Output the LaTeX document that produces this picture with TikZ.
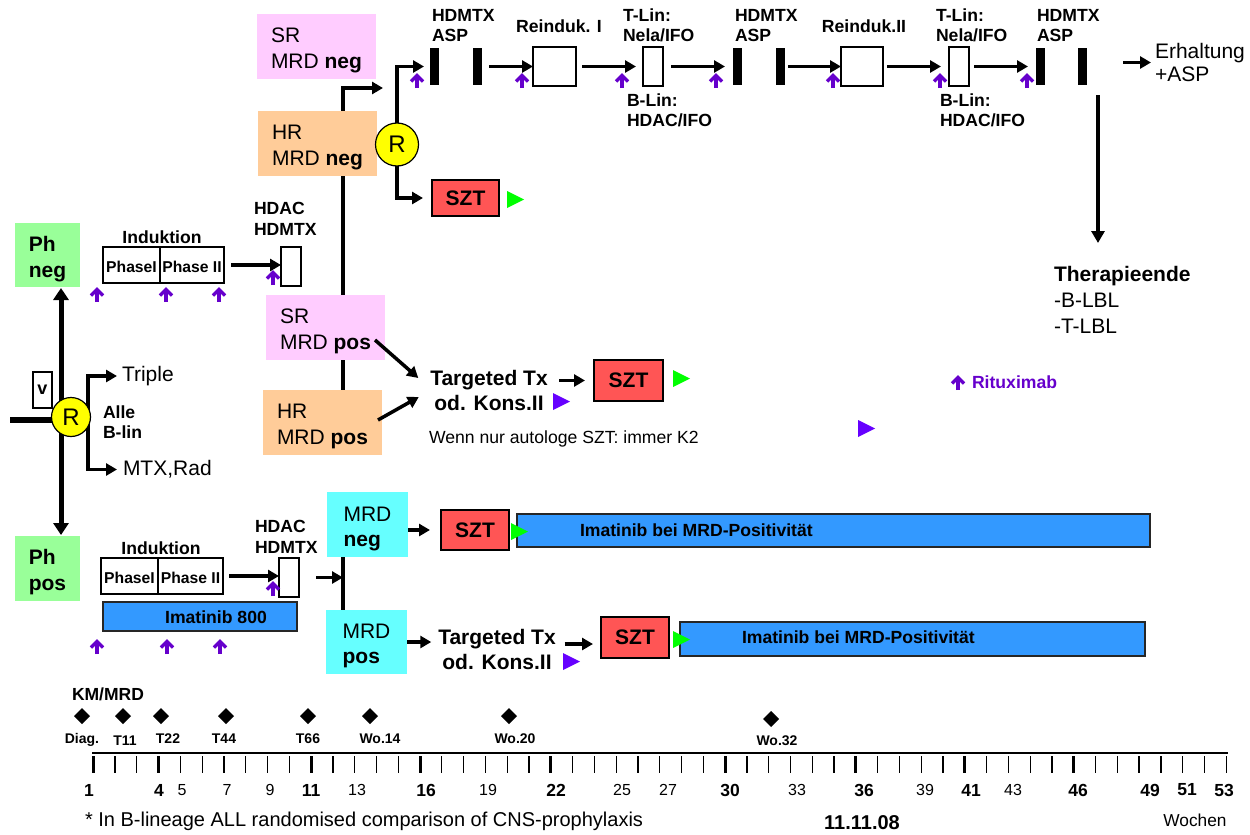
\documentclass[tikz,border=0pt]{standalone}
\usepackage{fontspec}
\setmainfont{Liberation Sans}
\usetikzlibrary{arrows.meta,calc}
\definecolor{pinkc}{HTML}{FFCCFF}
\definecolor{orangec}{HTML}{FFCC99}
\definecolor{greenc}{HTML}{99FF99}
\definecolor{cyanc}{HTML}{66FFFF}
\definecolor{redc}{HTML}{FF5555}
\definecolor{bluec}{HTML}{3399FF}
\definecolor{yellowc}{HTML}{FFFF00}
\definecolor{purpc}{HTML}{6600CC}
\definecolor{violc}{HTML}{6600FF}
\definecolor{limec}{HTML}{00FF00}
\newcommand\mystrut{\rule{0pt}{23pt}}
\newcommand\purpup[2]{%
  \draw[purpc, line width=3.5pt] (#1,#2+14) -- (#1,#2+3);
  \draw[purpc, line width=3.5pt, line join=miter] (#1-6,#2+7.5) -- (#1,#2+1.5) -- (#1+6,#2+7.5);}
\newcommand\gtri[3]{\fill[#1] (#2,#3-8.5) -- (#2+17,#3) -- (#2,#3+8.5) -- cycle;}
\newcommand\dmd[2]{\fill (#1-8,#2) -- (#1,#2-8) -- (#1+8,#2) -- (#1,#2+8) -- cycle;}
\pgfdeclarelayer{bg}
\pgfsetlayers{bg,main}
\tikzset{
  every node/.style={inner sep=0pt, outer sep=0pt},
  big/.style={font=\fontsize{21}{26}\selectfont},
  bigb/.style={font=\bfseries\fontsize{21}{25}\selectfont},
  medb/.style={font=\bfseries\fontsize{17.6}{20}\selectfont},
  med/.style={font=\fontsize{17.6}{21}\selectfont},
  cbox/.style={anchor=north west, align=left, font=\fontsize{21}{26}\selectfont},
  wbox/.style={anchor=north west, draw, line width=1.3pt, fill=white},
  blackbar/.style={anchor=north west, fill=black, minimum width=9pt, minimum height=37pt},
  sztbox/.style={anchor=north west, draw, line width=1.3pt, fill=redc, font=\bfseries\fontsize{21}{25}\selectfont},
  bluebar/.style={anchor=north west, draw=black!85, line width=1.3pt, fill=bluec},
  rcirc/.style={circle, draw, line width=1.2pt, fill=yellowc, font=\fontsize{24}{28}\selectfont},
  arr/.style={line width=3.5pt, -{Triangle[length=11pt,width=12pt]}},
  phase/.style={wbox, minimum height=36pt, text height=15pt, text depth=0pt, font=\bfseries\fontsize{15.7}{18}\selectfont},
  dlab/.style={font=\bfseries\fontsize{14}{16}\selectfont},
  tlb/.style={font=\bfseries\fontsize{17.5}{20}\selectfont},
  tln/.style={font=\fontsize{16}{19}\selectfont},
}
\begin{document}
\begin{tikzpicture}[x=1pt,y=-1pt]
\useasboundingbox (0,0) rectangle (1250,835);

% ---------- upper middle boxes
\node[cbox, fill=pinkc, minimum width=119pt, minimum height=65pt] (srneg) at (257,14) {\mystrut SR\\MRD \textbf{neg}};
\node[cbox, fill=orangec, minimum width=119pt, minimum height=65pt] (hrneg) at (258,111) {\mystrut HR\\MRD \textbf{neg}};
\node[cbox, fill=pinkc, minimum width=119pt, minimum height=65pt] (srpos) at (266,295) {\mystrut SR\\MRD \textbf{pos}};
\node[cbox, fill=orangec, minimum width=119pt, minimum height=65pt] (hrpos) at (263,390) {\mystrut HR\\MRD \textbf{pos}};
\node[rcirc, minimum size=43pt] (R2) at (397,144.5) {R};
\coordinate (j1t) at (343,88);
\coordinate (j1e) at (383,88);

% ---------- top row
\node[blackbar] (b1a) at (430,48) {};
\node[blackbar] (b1b) at (473,48) {};
\node[blackbar] (b2a) at (733,48) {};
\node[blackbar] (b2b) at (776,48) {};
\node[blackbar] (b3a) at (1036,48) {};
\node[blackbar] (b3b) at (1078,48) {};
\node[wbox, minimum width=43pt, minimum height=39pt] (re1) at (533,47) {};
\node[wbox, minimum width=20pt, minimum height=39pt] (tl1) at (643,47) {};
\node[wbox, minimum width=42pt, minimum height=39pt] (re2) at (841,47) {};
\node[wbox, minimum width=20pt, minimum height=39pt] (tl2) at (949,47) {};

\node[medb, anchor=west, align=left] (hd1t) at (432,26) {HDMTX\\ASP};
\node[medb] (re1t) at (559,26) {Reinduk. I};
\node[medb, anchor=west, align=left] (tl1t) at (623,25) {T-Lin:\\Nela/IFO};
\node[medb, anchor=west, align=left] (bl1t) at (627,110) {B-Lin:\\HDAC/IFO};
\node[medb, anchor=west, align=left] (hd2t) at (735,26) {HDMTX\\ASP};
\node[medb] (re2t) at (864,26) {Reinduk.II};
\node[medb, anchor=west, align=left] (tl2t) at (936,25) {T-Lin:\\Nela/IFO};
\node[medb, anchor=west, align=left] (bl2t) at (940,110) {B-Lin:\\HDAC/IFO};
\node[medb, anchor=west, align=left] (hd3t) at (1037,26) {HDMTX\\ASP};
\node[anchor=west, align=left, font=\fontsize{21}{23}\selectfont] (erh) at (1155,62.5) {Erhaltung\\+ASP};
\node[anchor=west, align=left, font=\fontsize{21}{26}\selectfont] (ther) at (1054,300) {\textbf{Therapieende}\\-B-LBL\\-T-LBL};
\coordinate (vtop) at (1098,95);
\coordinate (vbot) at (1098,243);

\draw[arr, shorten >=6pt] (R2.north) |- (b1a.west);
\draw[arr, shorten <=7pt] (b1b.east) -- (b1b.east -| re1.west);
\draw[arr, shorten <=6pt, shorten >=7pt] (re1.east) -- (tl1.west);
\draw[arr, shorten <=8pt, shorten >=8pt] (tl1.east) -- (tl1.east -| b2a.west);
\draw[arr, shorten <=3pt] (b2b.east) -- (b2b.east -| re2.west);
\draw[arr, shorten <=4pt, shorten >=8pt] (re2.east) -- (tl2.west);
\draw[arr, shorten <=5pt, shorten >=8pt] (tl2.east) -- (tl2.east -| b3a.west);
\draw[arr, shorten <=36pt, shorten >=4pt] (erh.west -| b3b.east) -- (erh.west);
\draw[line width=4pt, -{Triangle[length=12pt,width=13pt]}] (vtop) -- (vbot);
\foreach \x in {417,522,622,716,833,940,1027} {\purpup{\x}{74}}

% ---------- SZT after R
\node[sztbox, minimum width=67pt, minimum height=36pt] (szt1) at (432,180) {SZT};
\draw[arr, shorten >=9pt] (R2.south) |- (szt1.west);
\gtri{limec}{507}{199.5}

% ---------- left part
\node[cbox, fill=greenc, minimum width=65pt, minimum height=64pt, font=\bfseries\fontsize{21}{26}\selectfont] (phneg) at (15,223) {\mystrut Ph\\neg};
\node[cbox, fill=greenc, minimum width=65pt, minimum height=65pt, font=\bfseries\fontsize{21}{26}\selectfont] (phpos) at (15,536) {\mystrut Ph\\pos};
\node[rcirc, minimum size=39pt] (R1) at (71,417) {R};
\node[wbox, minimum width=19pt, minimum height=36pt, font=\bfseries\fontsize{18}{20}\selectfont] (vbx) at (33,372) {v};
\coordinate (lstart) at (10,420);
\node[big, anchor=west] (triple) at (122,376) {Triple};
\node[big, anchor=west] (mtx) at (123,469.5) {MTX,Rad};
\node[medb, anchor=west, align=left] (alle) at (103,422) {Alle\\B-lin};

% Ph neg induction
\node[medb] (ind1) at (162,237) {Induktion};
\node[phase, minimum width=57pt] (p1a) at (103,247) {PhaseI};
\node[phase, minimum width=64pt] (p1b) at (160,247) {Phase II};
\node[wbox, minimum width=20pt, minimum height=39pt] (hx1) at (281,247) {};
\node[anchor=west, align=left, font=\bfseries\fontsize{17.6}{21}\selectfont] (hdac1) at (254,218.5) {HDAC\\HDMTX};
\draw[arr, shorten <=7pt] (p1b.east) -- (p1b.east -| hx1.west);
\purpup{273}{271}
\foreach \x in {97,166,219} {\purpup{\x}{288}}

% Ph pos induction
\node[medb] (ind2) at (161,548) {Induktion};
\node[phase, minimum width=57pt] (p2a) at (101,558) {PhaseI};
\node[phase, minimum width=65pt] (p2b) at (158,558) {Phase II};
\node[wbox, minimum width=20pt, minimum height=39pt] (hx2) at (279,558) {};
\node[anchor=west, align=left, font=\bfseries\fontsize{17.6}{21}\selectfont] (hdac2) at (255,536.5) {HDAC\\HDMTX};
\draw[arr, shorten <=6pt] (p2b.east) -- (p2b.east -| hx2.west);
\node[bluebar, minimum width=194pt, minimum height=29pt] (im800) at (103,602) {};
\node[medb] (im800t) at (216,617) {Imatinib 800};
\purpup{273}{582}
\foreach \x in {97,167,220} {\purpup{\x}{640}}

% ---------- middle (MRD pos branch)
\node[bigb, align=center] (tg1) at (489,390.5) {Targeted Tx\\od. Kons.II};
\draw[arr] ($(srpos.east)+(-10,12.5)$) -- ($(tg1.west)+(-12,-12.5)$);
\draw[arr] ($(hrpos.east)+(-4,-2.5)$) -- ($(tg1.west)+(-11.5,6.5)$);
\gtri{violc}{553}{401.5}
\node[sztbox, minimum width=69pt, minimum height=41pt] (szt1b) at (594,360) {SZT};
\draw[arr] ($(tg1.east)+(11.5,-10)$) -- ($(szt1b.west)+(-9,0)$);
\gtri{limec}{673}{378.5}
\node[med, anchor=west] (wenn) at (429,439) {Wenn nur autologe SZT: immer K2};
\gtri{violc}{858}{428.5}
\purpup{958}{376}
\node[medb, text=purpc, anchor=west] (ritux) at (972,382) {Rituximab};

% ---------- Ph pos branches
\node[cbox, fill=cyanc, minimum width=81pt, minimum height=65pt, font=\fontsize{21}{25}\selectfont] (mrdneg) at (327,492) {\mystrut MRD\\\textbf{neg}};
\node[cbox, fill=cyanc, minimum width=81pt, minimum height=64pt, font=\fontsize{21}{25}\selectfont] (mrdpos) at (326,610) {\mystrut MRD\\\textbf{pos}};
\coordinate (jn) at (343,577.5);
\draw[line width=4pt] (jn |- mrdneg.south) -- (jn |- mrdpos.north);
\draw[arr, shorten <=17pt] (hx2.east) -- (jn);

\node[sztbox, minimum width=68pt, minimum height=40pt] (szt2) at (441,510) {SZT};
\draw[arr, shorten >=11pt] (mrdneg.east |- szt2.west) -- (szt2.west);
\node[bluebar, minimum width=633pt, minimum height=33pt] (bar2) at (517,514) {};
\gtri{limec}{511}{531.5}
\node[medb, anchor=west] (im2t) at (580,530) {Imatinib bei MRD-Positivität};

\node[bigb, align=center] (tg2) at (497,649) {Targeted Tx\\od. Kons.II};
\draw[arr, shorten >=7pt] (mrdpos.east) -- (mrdpos.east -| tg2.west);
\gtri{violc}{563}{661.5}
\node[sztbox, minimum width=68pt, minimum height=41pt] (szt3) at (601,617) {SZT};
\draw[arr] ($(tg2.east)+(9,-5)$) -- ($(szt3.west)+(-8,6.5)$);
\node[bluebar, minimum width=465pt, minimum height=34pt] (bar3) at (680,622) {};
\gtri{limec}{673}{639.5}
\node[medb, anchor=west] (im3t) at (742,637) {Imatinib bei MRD-Positivität};

% ---------- timeline
\node[anchor=west, font=\bfseries\fontsize{17.5}{20}\selectfont] (km) at (72,694) {KM/MRD};
\foreach \x/\y in {82/716,123/716,161/716,226/716,308/716,370/716,509/716,771/719} {\dmd{\x}{\y}}
\foreach \x/\y/\t [count=\i] in {82/740/Diag.,125/741/T11,168/739/T22,224/739/T44,308/739/T66,380/739/Wo.14,515/739/Wo.20,777/741/Wo.32}
  {\node[dlab] (dl\i) at (\x,\y) {\t};}
\draw[line width=2pt] (92,753) -- (1228,753);
\foreach \k in {1,...,53} {\draw[line width=1.3pt] ({93.2+(\k-1)*21.79},756) -- ({93.2+(\k-1)*21.79},773);}
\foreach \k in {1,4,11,16,22,30,36,41,46} {\draw[line width=3pt] ({93.2+(\k-1)*21.79},756) -- ({93.2+(\k-1)*21.79},773);}
\foreach \x/\t in {89/1,159/4,311/11,426/16,556/22,730/30,864/36,971/41,1078/46,1150/49,1187/51,1224/53}
  {\node[tlb] (tb\t) at (\x,790) {\t};}
\foreach \x/\t in {182/5,227/7,270/9,357/13,488/19,622/25,668/27,797/33,925/39,1013/43}
  {\node[tln] (tn\t) at (\x,790) {\t};}
\node[anchor=west, font=\fontsize{20}{24}\selectfont] (foot) at (85,821) {* In B-lineage ALL randomised comparison of CNS-prophylaxis};
\node[font=\bfseries\fontsize{20}{24}\selectfont] (date) at (862,823) {11.11.08};
\node[font=\fontsize{17.3}{20}\selectfont] (woch) at (1195,820) {Wochen};

% ---------- background connectors
\begin{pgfonlayer}{bg}
\draw[line width=4pt, -{Triangle[length=11pt,width=12pt]}] (j1t |- hrpos.north) -- (j1t) -- (j1e);
\draw[line width=5.5pt] (lstart) -- (lstart -| R1.center);
\draw[line width=5pt, {Triangle[length=12pt,width=15pt]}-{Triangle[length=12pt,width=15pt]}, shorten <=1pt, shorten >=1pt] ([xshift=13.5pt]phneg.south) -- ([xshift=13.5pt]phpos.north);
\draw[arr, shorten >=5pt] ([xshift=17pt]R1.center) |- (triple.west);
\draw[arr, shorten >=6pt] ([xshift=17pt]R1.center) |- (mtx.west);
\end{pgfonlayer}
\end{tikzpicture}
\end{document}
